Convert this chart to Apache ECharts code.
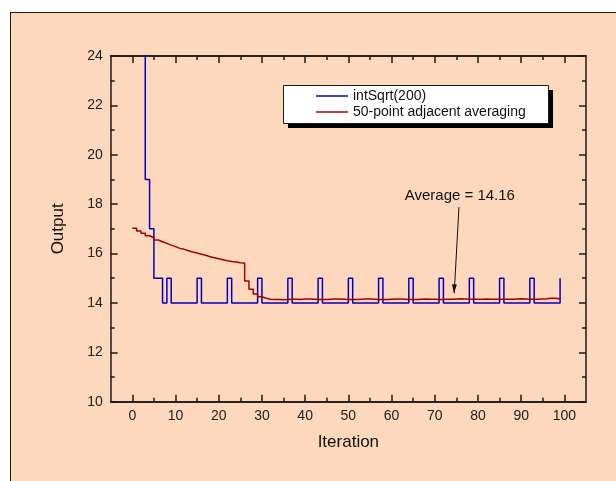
<!DOCTYPE html>
<html>
<head>
<meta charset="utf-8">
<script src="https://cdn.jsdelivr.net/npm/echarts@6/dist/echarts.min.js"></script>
<style>
  html, body { margin: 0; padding: 0; background: #ffffff; width: 616px; height: 481px; overflow: hidden; }
  #frame { position: absolute; left: 10px; top: 12px; width: 640px; height: 520px; background: #FED8BD; border: 1.5px solid #1a1a1a; box-sizing: border-box; }
  #chart { position: absolute; left: 0; top: 0; width: 616px; height: 481px; }
</style>
</head>
<body>
<div id="frame"></div>
<div id="chart"></div>
<script>
// ---- data ----
const iterations = [];
for (let i = 0; i < 100; i++) iterations.push(i);

const intSqrtValues = [
  100, 51, 27, 19, 17, 15, 15, 14, 15, 14,
  14, 14, 14, 14, 14, 15, 14, 14, 14, 14,
  14, 14, 15, 14, 14, 14, 14, 14, 14, 15,
  14, 14, 14, 14, 14, 14, 15, 14, 14, 14,
  14, 14, 14, 15, 14, 14, 14, 14, 14, 14,
  15, 14, 14, 14, 14, 14, 14, 15, 14, 14,
  14, 14, 14, 14, 15, 14, 14, 14, 14, 14,
  14, 15, 14, 14, 14, 14, 14, 14, 15, 14,
  14, 14, 14, 14, 14, 15, 14, 14, 14, 14,
  14, 14, 15, 14, 14, 14, 14, 14, 14, 15
];

const averagedValues = [
  17.02, 16.91, 16.82, 16.72, 16.64, 16.55, 16.48, 16.41, 16.34, 16.28,
  16.21, 16.17, 16.11, 16.06, 16.02, 15.97, 15.93, 15.87, 15.83, 15.79,
  15.75, 15.71, 15.68, 15.66, 15.63, 15.62, 14.89, 14.55, 14.36, 14.25,
  14.19, 14.15, 14.14, 14.14, 14.13, 14.14, 14.15, 14.15, 14.14, 14.16,
  14.16, 14.15, 14.14, 14.14, 14.14, 14.15, 14.16, 14.16, 14.15, 14.14,
  14.14, 14.14, 14.15, 14.16, 14.16, 14.15, 14.14, 14.14, 14.14, 14.15,
  14.16, 14.16, 14.15, 14.14, 14.14, 14.14, 14.15, 14.16, 14.15, 14.15,
  14.14, 14.14, 14.15, 14.15, 14.16, 14.17, 14.16, 14.15, 14.15, 14.15,
  14.15, 14.16, 14.15, 14.15, 14.15, 14.15, 14.15, 14.15, 14.16, 14.17,
  14.16, 14.15, 14.15, 14.15, 14.16, 14.17, 14.19, 14.19, 14.16, 14.15
];

const xMajorTicks = [0, 10, 20, 30, 40, 50, 60, 70, 80, 90, 100];
const xMinorTicks = [5, 15, 25, 35, 45, 55, 65, 75, 85, 95];
const seriesNames = ['intSqrt(200)', '50-point adjacent averaging'];
const annotationText = 'Average = 14.16';
const annotationLabelAt = [75.8, 18.33];
const arrowFrom = [75.6, 17.88];
const arrowTo = [74.5, 14.39];

// ---- chart ----
const FONT = '"Liberation Sans", Arial, sans-serif';
const INK = '#1a1a1a';
const chart = echarts.init(document.getElementById('chart'), null, { renderer: 'canvas' });

function xAxisDef(position, ticks, len, withLabels) {
  return {
    type: 'value', min: -5, max: 105, position: position,
    axisLine: { show: true, onZero: false, lineStyle: { color: INK, width: 1.5 } },
    axisTick: { show: true, inside: true, length: len, customValues: ticks, lineStyle: { color: INK, width: 1.5 } },
    axisLabel: withLabels
      ? { show: true, customValues: ticks, fontSize: 14, color: '#222', margin: 7, fontFamily: FONT }
      : { show: false },
    splitLine: { show: false },
    name: withLabels ? 'Iteration' : '',
    nameLocation: 'middle', nameGap: 32,
    nameTextStyle: { fontSize: 17, color: '#111', fontFamily: FONT }
  };
}
function yAxisDef(position, withLabels) {
  return {
    type: 'value', min: 10, max: 24, interval: 2, position: position,
    axisLine: { show: true, onZero: false, lineStyle: { color: INK, width: 1.5 } },
    axisTick: { show: true, inside: true, length: 7, lineStyle: { color: INK, width: 1.5 } },
    minorTick: { show: true, splitNumber: 2, length: 4, lineStyle: { color: INK, width: 1.5 } },
    axisLabel: withLabels ? { show: true, fontSize: 14, color: '#222', margin: 8, fontFamily: FONT } : { show: false },
    splitLine: { show: false },
    name: withLabels ? 'Output' : '',
    nameLocation: 'middle', nameGap: 44,
    nameTextStyle: { fontSize: 17, color: '#111', fontFamily: FONT }
  };
}

const LEG = { x: 283, y: 85, w: 265, h: 38, shadow: 5 };

const option = {
  backgroundColor: 'transparent',
  animation: false,
  grid: { left: 110.7, right: 30, top: 56, bottom: 79.3, containLabel: false },
  graphic: [
    { type: 'rect', z: 3, silent: true,
      shape: { x: LEG.x + LEG.shadow, y: LEG.y + LEG.shadow, width: LEG.w, height: LEG.h },
      style: { fill: '#000' } },
    { type: 'rect', z: 3, silent: true,
      shape: { x: LEG.x + 0.5, y: LEG.y + 0.5, width: LEG.w, height: LEG.h },
      style: { fill: '#fff', stroke: INK, lineWidth: 1 } }
  ],
  legend: {
    z: 5,
    orient: 'vertical', left: LEG.x, top: LEG.y,
    padding: [4, 18, 4, 33],
    itemWidth: 32, itemHeight: 14, itemGap: 2,
    icon: 'path://M0,0L64,0L64,3L0,3Z',
    textStyle: { fontSize: 14, color: '#111', fontFamily: FONT },
    data: seriesNames
  },
  xAxis: [
    xAxisDef('bottom', xMajorTicks, 7, true),
    xAxisDef('bottom', xMinorTicks, 4, false),
    xAxisDef('top', xMajorTicks, 7, false),
    xAxisDef('top', xMinorTicks, 4, false)
  ],
  yAxis: [ yAxisDef('left', true), yAxisDef('right', false) ],
  series: [
    {
      name: seriesNames[0], type: 'line', step: 'end',
      xAxisIndex: 0, yAxisIndex: 0,
      showSymbol: false, symbol: 'none', clip: true,
      lineStyle: { color: '#0000C0', width: 1.5 },
      itemStyle: { color: '#0000C0' },
      data: iterations.map((x, i) => [x, intSqrtValues[i]])
    },
    {
      name: seriesNames[1], type: 'line', step: 'end',
      xAxisIndex: 0, yAxisIndex: 0,
      showSymbol: false, symbol: 'none', clip: true,
      lineStyle: { color: '#A00000', width: 1.5 },
      itemStyle: { color: '#A00000' },
      data: iterations.map((x, i) => [x, averagedValues[i]]),
      markLine: {
        silent: true, symbol: ['none', 'none'],
        lineStyle: { color: '#111', width: 1, type: 'solid' },
        label: { show: false },
        data: [[{ coord: arrowFrom }, { coord: arrowTo }]]
      },
      markPoint: {
        silent: true,
        data: [
          {
            coord: annotationLabelAt, symbol: 'circle', symbolSize: 1,
            itemStyle: { color: 'rgba(0,0,0,0)' },
            label: { show: true, position: 'inside', formatter: annotationText, fontSize: 15, color: '#111', fontFamily: FONT }
          },
          {
            coord: arrowTo, symbol: 'triangle', symbolSize: [5, 9],
            symbolRotate: 177, symbolOffset: [0, -4.5],
            itemStyle: { color: '#111' },
            label: { show: false }
          }
        ]
      }
    }
  ]
};
chart.setOption(option);
</script>
</body>
</html>
